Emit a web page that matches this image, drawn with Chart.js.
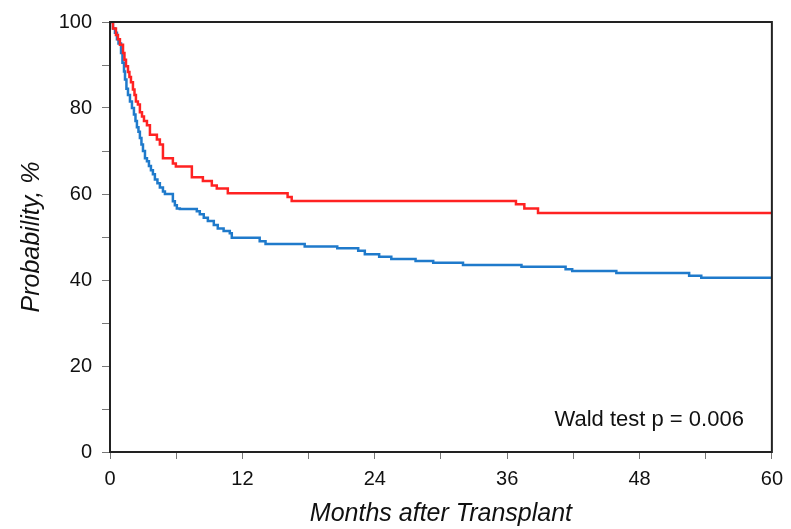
<!DOCTYPE html>
<html>
<head>
<meta charset="utf-8">
<script src="https://cdn.jsdelivr.net/npm/chart.js@4"></script>
<style>
  html, body { margin: 0; padding: 0; background: #fff; }
  #wrap { width: 791px; height: 529px; }
</style>
</head>
<body>
<div id="wrap"><canvas id="c" width="791" height="529"></canvas></div>
<script>
// Kaplan-Meier step data: months after transplant, probability %
const redMonths = [0, 0.27, 0.54, 0.72, 0.9, 1.18, 1.31, 1.45, 1.63, 1.76, 1.9, 2.08, 2.22, 2.35, 2.53, 2.71, 2.9, 3.08, 3.35, 3.62, 4.25, 4.52, 4.8, 5.7, 5.97, 7.42, 8.42, 9.23, 9.68, 10.68, 16.1, 16.47, 36.8, 37.56, 38.8, 60];
const redValues = [100, 98.5, 97, 96, 94.7, 92.8, 91.2, 89.7, 88.4, 87.2, 86, 84.3, 83, 81.5, 80.8, 79, 78, 77, 76, 73.8, 72.7, 71.5, 68.3, 67.1, 66.4, 63.9, 63, 62, 61.3, 60.2, 59.3, 58.4, 57.6, 56.6, 55.6, 55.6];

const blueMonths = [0, 0.27, 0.45, 0.63, 0.77, 1.0, 1.13, 1.27, 1.36, 1.49, 1.63, 1.81, 1.99, 2.17, 2.31, 2.44, 2.58, 2.71, 2.85, 2.99, 3.17, 3.35, 3.53, 3.71, 3.89, 4.07, 4.3, 4.52, 4.8, 4.98, 5.7, 5.88, 6.06, 6.33, 7.87, 8.14, 8.5, 8.87, 9.41, 9.77, 10.3, 10.86, 11.04, 13.57, 14.1, 17.65, 20.6, 22.5, 23.1, 24.4, 25.5, 27.7, 29.3, 32.0, 37.3, 41.3, 41.9, 45.9, 52.5, 53.6, 60];
const blueValues = [100, 98.5, 97.5, 96, 95, 92.8, 90.5, 88.5, 86.6, 84.5, 83, 81.5, 80, 78.5, 77, 75.5, 74.5, 73, 71.5, 70, 68.3, 67.6, 66.5, 65.5, 64.6, 63.4, 62.5, 61.5, 60.6, 60, 58.3, 57.4, 56.6, 56.5, 56.0, 55.3, 54.5, 53.7, 52.8, 52, 51.4, 50.9, 49.8, 49, 48.4, 47.8, 47.4, 46.8, 46.0, 45.4, 44.9, 44.4, 44.0, 43.5, 43.1, 42.5, 42.1, 41.6, 41.0, 40.5, 40.5];

const xTickLabels = ['0', '12', '24', '36', '48', '60'];
const yTickLabels = ['0', '20', '40', '60', '80', '100'];
const annotationText = 'Wald test p = 0.006';

const toPts = (xs, ys) => xs.map((x, i) => ({ x: x, y: ys[i] }));
const FAM = '"Liberation Sans", Arial, sans-serif';

const frame = {
  id: 'frame',
  afterDatasetsDraw(chart) {
    const { ctx, chartArea: a } = chart;
    ctx.save();
    ctx.strokeStyle = '#222';
    ctx.lineWidth = 2;
    ctx.strokeRect(a.left, a.top, a.right - a.left, a.bottom - a.top);
    ctx.fillStyle = '#111';
    ctx.font = '22px ' + FAM;
    ctx.textAlign = 'right';
    ctx.textBaseline = 'middle';
    ctx.fillText(annotationText, a.right - 28, a.top + 398);
    ctx.restore();
  }
};

new Chart(document.getElementById('c'), {
  type: 'line',
  data: {
    datasets: [
      { data: toPts(redMonths, redValues), borderColor: '#FF2222', borderWidth: 2.5, stepped: 'before', pointRadius: 0, fill: false },
      { data: toPts(blueMonths, blueValues), borderColor: '#1F7ACB', borderWidth: 2.5, stepped: 'before', pointRadius: 0, fill: false }
    ]
  },
  options: {
    responsive: false,
    animation: false,
    layout: { padding: { left: 0, right: 16, top: 19, bottom: 0 } },
    plugins: { legend: { display: false }, tooltip: { enabled: false } },
    scales: {
      x: {
        type: 'linear', min: 0, max: 60,
        afterFit(s) { s.height = 77; },
        ticks: {
          stepSize: 6, autoSkip: false, maxRotation: 0, padding: 8,
          color: '#111', font: { size: 20, family: FAM },
          callback: (v) => (v % 12 === 0 ? xTickLabels[v / 12] : '')
        },
        grid: { drawOnChartArea: false, drawTicks: true, tickLength: 7, tickColor: '#777', lineWidth: 1 },
        border: { display: true, color: '#222', width: 2 },
        title: { display: true, text: 'Months after Transplant', color: '#111', padding: { top: 0, bottom: 0 },
          font: { size: 25, style: 'italic', family: FAM } }
      },
      y: {
        type: 'linear', min: 0, max: 100,
        afterFit(s) { s.width = 110; },
        ticks: {
          stepSize: 10, autoSkip: false, padding: 10,
          color: '#111', font: { size: 20, family: FAM },
          callback: (v) => (v % 20 === 0 ? yTickLabels[v / 20] : '')
        },
        grid: { drawOnChartArea: false, drawTicks: true, tickLength: 8, tickColor: '#777', lineWidth: 1 },
        border: { display: true, color: '#222', width: 2 },
        title: { display: true, text: 'Probability, %', color: '#111', padding: { top: 17, bottom: 0 },
          font: { size: 25, style: 'italic', family: FAM } }
      }
    }
  },
  plugins: [frame]
});
</script>
</body>
</html>
